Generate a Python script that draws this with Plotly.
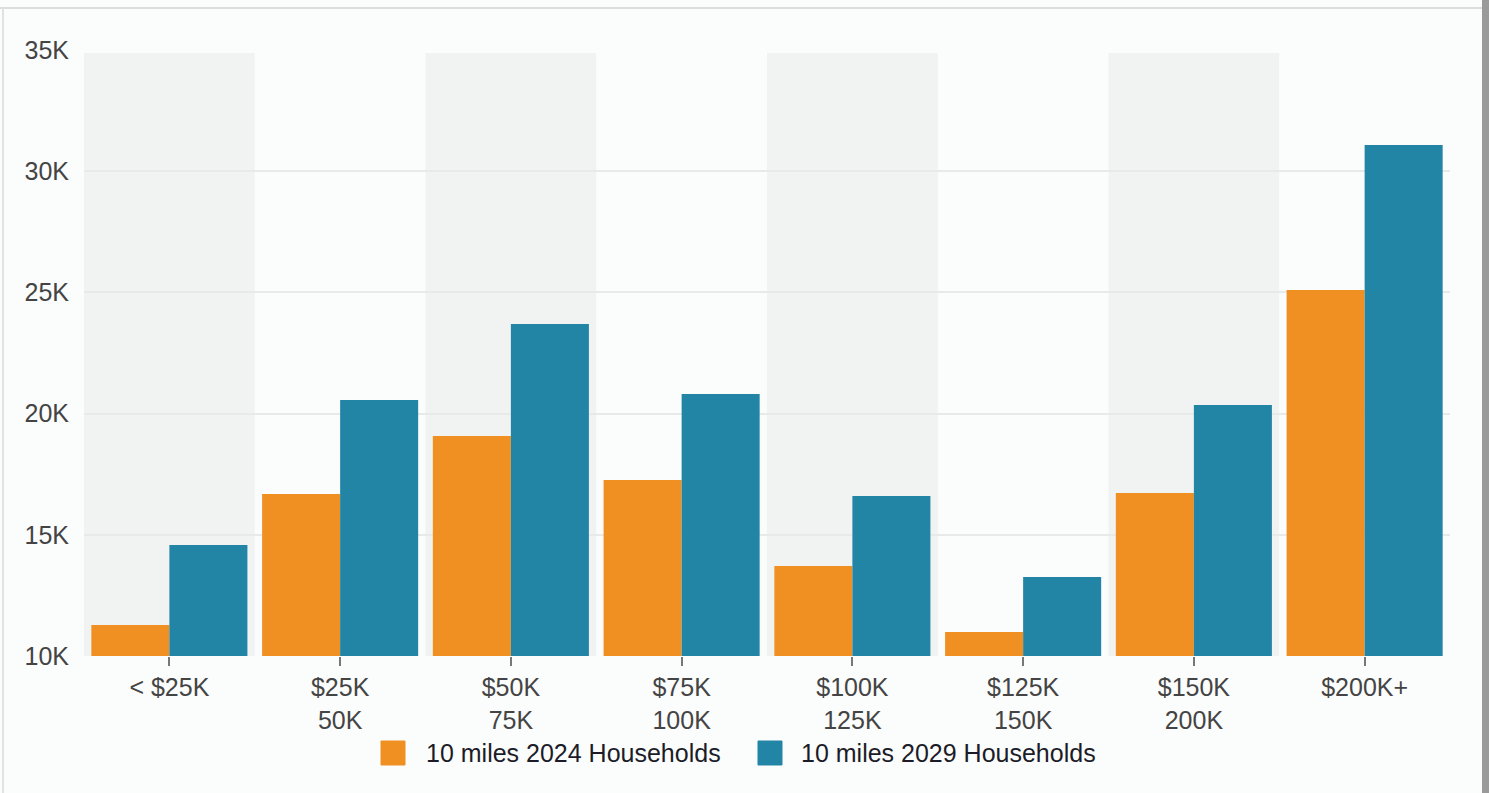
import plotly.graph_objects as go

categories = ["< $25K", "$25K<br>50K", "$50K<br>75K", "$75K<br>100K", "$100K<br>125K",
              "$125K<br>150K", "$150K<br>200K", "$200K+"]
households_2024 = [11280, 16680, 19080, 17260, 13710, 10990, 16720, 25100]
households_2029 = [14580, 20560, 23700, 20810, 16600, 13260, 20350, 31080]
series_names = ["10 miles 2024 Households", "10 miles 2029 Households"]
y_tickvals = [10000, 15000, 20000, 25000, 30000, 35000]
y_ticktext = ["10K", "15K", "20K", "25K", "30K", "35K"]

ORANGE = "#F19022"
TEAL = "#2285A6"
FONT = "Liberation Sans, Arial, sans-serif"

W, H = 1489, 793
ML, MR, MT, MB = 84, 39, 50, 137
PW, PH = W - ML - MR, H - MT - MB


def px(x):
    return (x - ML) / PW


def py(y):
    return (H - MB - y) / PH


fig = go.Figure()
fig.add_trace(go.Bar(x=categories, y=households_2024, name=series_names[0],
                     marker=dict(color=ORANGE, line=dict(width=0)), showlegend=False))
fig.add_trace(go.Bar(x=categories, y=households_2029, name=series_names[1],
                     marker=dict(color=TEAL, line=dict(width=0)), showlegend=False))

shapes = []
# alternating category bands
for i in range(0, len(categories), 2):
    shapes.append(dict(type="rect", xref="x", yref="paper", x0=i - 0.5, x1=i + 0.5,
                       y0=0, y1=0.995, fillcolor="#f1f2f2", line=dict(width=0), layer="below"))

# frame
shapes.append(dict(type="line", xref="paper", yref="paper", x0=px(0), x1=px(1482),
                   y0=py(8), y1=py(8), line=dict(color="#dcdcdc", width=2)))
shapes.append(dict(type="line", xref="paper", yref="paper", x0=px(3), x1=px(3),
                   y0=py(8), y1=py(800), line=dict(color="#e2e2e2", width=2)))
shapes.append(dict(type="rect", xref="paper", yref="paper", x0=px(1482), x1=px(1492),
                   y0=py(800), y1=py(-5), fillcolor="#9a9a9a", line=dict(width=0)))

# custom legend
legend_items = [(ORANGE, 381, 424, series_names[0]), (TEAL, 758, 799, series_names[1])]
annotations = []
for color, sx, tx, name in legend_items:
    shapes.append(dict(type="rect", xref="paper", yref="paper", x0=px(sx), x1=px(sx + 24),
                       y0=py(765), y1=py(741), fillcolor=color, line=dict(color=color, width=1)))
    annotations.append(dict(xref="paper", yref="paper", x=px(tx), y=py(753), text=name,
                            showarrow=False, xanchor="left", yanchor="middle",
                            font=dict(family=FONT, size=25, color="#1c1c28")))

fig.update_layout(
    width=W, height=H,
    margin=dict(l=ML, r=MR, t=MT, b=MB),
    paper_bgcolor="#fbfcfc", plot_bgcolor="#fbfcfc",
    barmode="group", bargap=0.086, bargroupgap=0,
    font=dict(family=FONT, size=25, color="#444444"),
    shapes=shapes, annotations=annotations,
    showlegend=False,
    xaxis=dict(showgrid=False, ticks="outside", ticklen=9, tickwidth=2, tickcolor="#777777",
               tickfont=dict(size=25, color="#444444"), showline=False, zeroline=False,
               fixedrange=True),
    yaxis=dict(range=[10000, 35000], tickvals=y_tickvals, ticktext=y_ticktext,
               showgrid=True, gridcolor="#e8e9e9", gridwidth=2, zeroline=False,
               tickfont=dict(size=25, color="#444444"), ticks="", ticklabelstandoff=14,
               fixedrange=True),
)

fig.write_html("out.html", config={"displayModeBar": False})
